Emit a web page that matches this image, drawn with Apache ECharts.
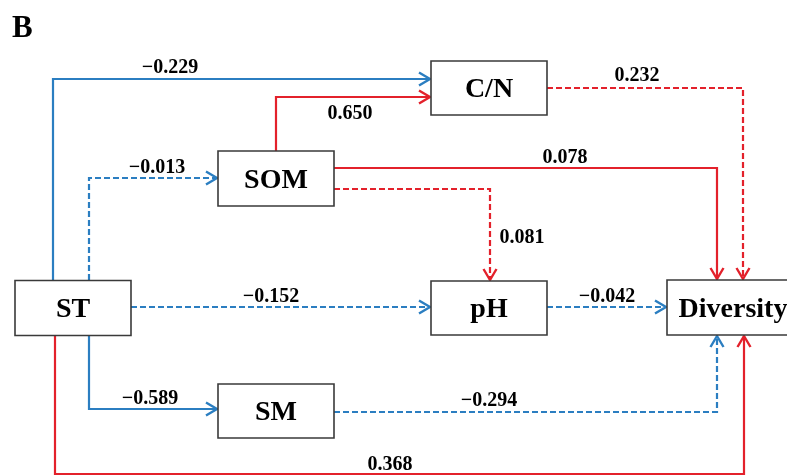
<!DOCTYPE html>
<html>
<head>
<meta charset="utf-8">
<script src="https://cdn.jsdelivr.net/npm/echarts@6/dist/echarts.min.js"></script>
<style>
html,body{margin:0;padding:0;background:#fff;}
#chart{width:787px;height:475px;}
</style>
</head>
<body>
<div id="chart"></div>
<script>
// ---------- data ----------
const nodeNames = ['ST', 'SOM', 'C/N', 'pH', 'SM', 'Diversity'];
const edgeFrom = ['ST', 'SOM', 'ST', 'SOM', 'SOM', 'C/N', 'ST', 'pH', 'ST', 'SM', 'ST'];
const edgeTo = ['C/N', 'C/N', 'SOM', 'Diversity', 'pH', 'Diversity', 'pH', 'Diversity', 'SM', 'Diversity', 'Diversity'];
const pathCoefficients = [-0.229, 0.650, -0.013, 0.078, 0.081, 0.232, -0.152, -0.042, -0.589, -0.294, 0.368];
const significant = [true, true, false, true, false, false, false, false, true, false, true];
const panelLabel = 'B';

// ---------- layout (diagram coordinates, mapped through hidden value axes) ----------
const nodeLayout = {
  'ST': { c: [73, 308], w: 116, h: 55 },
  'SOM': { c: [276, 178.5], w: 116, h: 55 },
  'C/N': { c: [489, 88], w: 116, h: 54 },
  'pH': { c: [489, 308], w: 116, h: 54 },
  'SM': { c: [276, 411], w: 116, h: 54 },
  'Diversity': { c: [733, 307.5], w: 132, h: 55 }
};
const edgeRoutes = [
  [[53, 280], [53, 79], [430, 79]],
  [[276, 151], [276, 97], [430, 97]],
  [[89, 280], [89, 178], [217, 178]],
  [[334, 168], [717, 168], [717, 279]],
  [[334, 189], [490, 189], [490, 280]],
  [[547, 88], [743, 88], [743, 279]],
  [[131, 307], [430, 307]],
  [[547, 307], [666, 307]],
  [[89, 336], [89, 409], [217, 409]],
  [[334, 412], [717, 412], [717, 336]],
  [[55, 336], [55, 474], [744, 474], [744, 336]]
];
const labelLayout = [
  [170, 68], [350, 114], [157, 168], [565, 158], [522, 238], [637, 76],
  [271, 297], [607, 297], [150, 399], [489, 401], [390, 465]
];

const BLUE = '#2b7ec1';
const RED = '#e3212b';
const FONT = '"Liberation Serif", "Times New Roman", serif';

function fmt(v) {
  const s = Math.abs(v).toFixed(3);
  return (v < 0 ? '\u2212' : '') + s;
}

const chart = echarts.init(document.getElementById('chart'), null, { renderer: 'canvas' });

const option = {
  backgroundColor: '#ffffff',
  animation: false,
  title: {
    text: panelLabel,
    left: 12,
    top: 13,
    padding: 0,
    textStyle: { fontFamily: FONT, fontWeight: 'bold', fontSize: 31, color: '#000' }
  },
  grid: { left: 0, right: 0, top: 0, bottom: 0 },
  xAxis: { type: 'value', min: 0, max: 787, show: false },
  yAxis: { type: 'value', min: 0, max: 475, inverse: true, show: false },
  series: [
    {
      type: 'custom',
      name: 'paths',
      coordinateSystem: 'cartesian2d',
      clip: false,
      data: pathCoefficients.map((v, i) => [i, v]),
      renderItem: function (params, api) {
        const i = params.dataIndex;
        const v = pathCoefficients[i];
        const color = v >= 0 ? RED : BLUE;
        const pts = edgeRoutes[i].map(p => api.coord(p));
        const n = pts.length;
        const p1 = pts[n - 2], p2 = pts[n - 1];
        const len = Math.hypot(p2[0] - p1[0], p2[1] - p1[1]);
        const ux = (p2[0] - p1[0]) / len, uy = (p2[1] - p1[1]) / len;
        const L = 11, W = 6.5;
        const a1 = [p2[0] - ux * L - uy * W, p2[1] - uy * L + ux * W];
        const a2 = [p2[0] - ux * L + uy * W, p2[1] - uy * L - ux * W];
        const lp = api.coord(labelLayout[i]);
        return {
          type: 'group',
          children: [
            {
              type: 'polyline',
              shape: { points: pts },
              style: { stroke: color, lineWidth: 2.2, fill: null, lineDash: significant[i] ? null : [6, 3] }
            },
            {
              type: 'polyline',
              shape: { points: [a1, p2, a2] },
              style: { stroke: color, lineWidth: 2.4, fill: null }
            },
            {
              type: 'text',
              x: lp[0], y: lp[1],
              style: {
                text: fmt(v), fontFamily: FONT, fontWeight: 'bold', fontSize: 20,
                fill: '#000', align: 'center', verticalAlign: 'middle'
              }
            }
          ]
        };
      }
    },
    {
      type: 'custom',
      name: 'nodes',
      coordinateSystem: 'cartesian2d',
      clip: false,
      data: nodeNames.map((n, i) => [i, 0]),
      renderItem: function (params, api) {
        const name = nodeNames[params.dataIndex];
        const nl = nodeLayout[name];
        const tl = api.coord([nl.c[0] - nl.w / 2, nl.c[1] - nl.h / 2]);
        const br = api.coord([nl.c[0] + nl.w / 2, nl.c[1] + nl.h / 2]);
        const c = api.coord([nl.c[0], nl.c[1] + 2]);
        return {
          type: 'group',
          children: [
            {
              type: 'rect',
              shape: { x: tl[0], y: tl[1], width: br[0] - tl[0], height: br[1] - tl[1] },
              style: { fill: '#fff', stroke: '#3a3a3a', lineWidth: 1.6 }
            },
            {
              type: 'text',
              x: c[0], y: c[1],
              style: {
                text: name, fontFamily: FONT, fontWeight: 'bold', fontSize: 28,
                fill: '#000', align: 'center', verticalAlign: 'middle'
              }
            }
          ]
        };
      }
    }
  ]
};
chart.setOption(option);
</script>
</body>
</html>
